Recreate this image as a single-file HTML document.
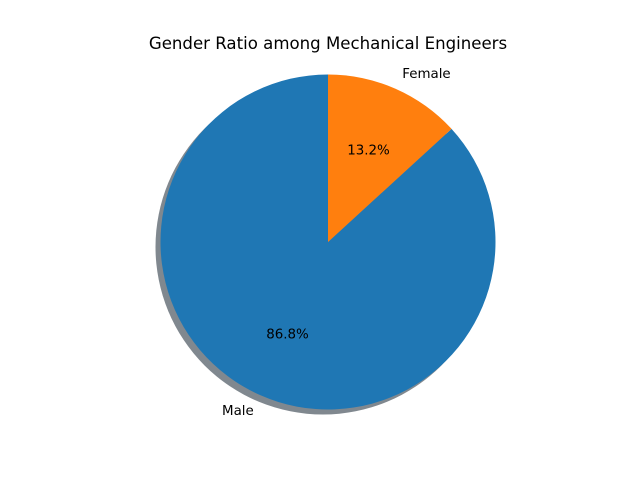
<!DOCTYPE html>
<html><head><meta charset="utf-8"><style>body{margin:0;background:#fff}svg{display:block}text{font-family:"DejaVu Sans","Liberation Sans",sans-serif}</style></head>
<body>
<svg id="chart" width="640" height="480" viewBox="0 0 640 480">
<rect width="640" height="480" fill="#fff"/>
<text x="328" y="49" text-anchor="middle" font-size="16.6" fill="#000">Gender Ratio among Mechanical Engineers</text>
<g id="slices"></g>
</svg>
<script>
const categories = ["Male", "Female"];
const values = [86.8, 13.2];
const colors = ["#1f77b4", "#ff7f0e"];
const cx = 328, cy = 242, r = 167.5, startAngle = 90;
const ns = "http://www.w3.org/2000/svg";
const g = document.getElementById('slices');
const total = values.reduce((a, b) => a + b, 0);
function pt(angDeg, rad) { const a = angDeg * Math.PI / 180; return [cx + rad * Math.cos(a), cy - rad * Math.sin(a)]; }
const sh = document.createElementNS(ns, 'circle');


sh.setAttribute('cx', cx - 5); sh.setAttribute('cy', cy + 5); sh.setAttribute('r', r);
sh.setAttribute('fill', '#4a5560'); sh.setAttribute('fill-opacity', '0.7');
g.appendChild(sh);
let ang = startAngle;
values.forEach((v, i) => {
  const sweep = v / total * 360;
  const a0 = ang, a1 = ang + sweep;
  const p0 = pt(a0, r), p1 = pt(a1, r);
  const large = sweep > 180 ? 1 : 0;
  const path = document.createElementNS(ns, 'path');
  
  
  path.setAttribute('d', `M${cx},${cy} L${p0[0]},${p0[1]} A${r},${r} 0 ${large} 0 ${p1[0]},${p1[1]} Z`);
  path.setAttribute('fill', colors[i]);
  g.appendChild(path);
  const mid = (a0 + a1) / 2;
  const lp = pt(mid, r * 1.1);
  const cosm = Math.cos(mid * Math.PI / 180);
  const lab = document.createElementNS(ns, 'text');
  
  
  lab.setAttribute('x', lp[0]); lab.setAttribute('y', lp[1] + 4.5);
  lab.setAttribute('text-anchor', cosm < 0 ? 'end' : 'start');
  lab.setAttribute('font-size', '13.4');
  lab.textContent = categories[i];
  g.appendChild(lab);
  const pp = pt(mid, r * 0.6);
  const pc = document.createElementNS(ns, 'text');
  
  
  pc.setAttribute('x', pp[0]); pc.setAttribute('y', pp[1] + 4.5);
  pc.setAttribute('text-anchor', 'middle');
  pc.setAttribute('font-size', '13.4');
  pc.textContent = (v / total * 100).toFixed(1) + '%';
  g.appendChild(pc);
  ang = a1;
});
</script>
</body></html>
